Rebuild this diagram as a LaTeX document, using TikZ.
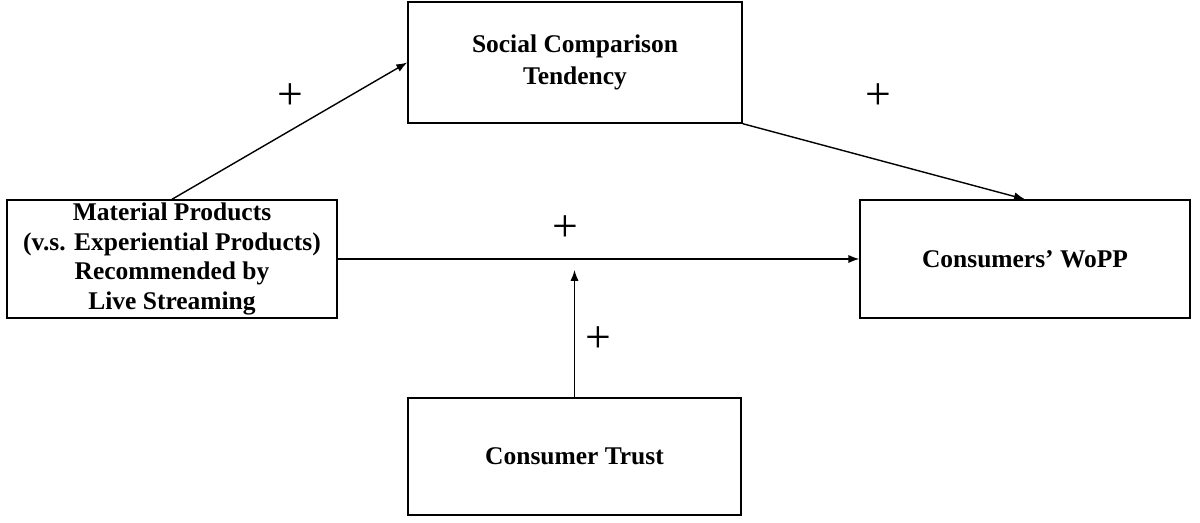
\documentclass[tikz,border=0pt]{standalone}
\usepackage{fontspec}
\setmainfont{Liberation Serif}
\tikzset{
  box/.style={draw, thick, align=center, font=\fontsize{14.5}{17}\selectfont\bfseries, inner sep=0pt},
  sign/.style={font=\fontsize{26}{26}\selectfont},
  link/.style={draw, thick, -{Latex[length=2.2mm]}}
}
\usetikzlibrary{arrows.meta}
\begin{document}
\begin{tikzpicture}
        \useasboundingbox (0,0) rectangle (24,10.46);
        \node[box, minimum width=6.68cm, minimum height=2.42cm] (soc) at (11.5,9.21) {Social Comparison\\[1pt]Tendency};
        \node[box, minimum width=6.6cm, minimum height=2.36cm] (mat) at (3.44,5.28) {Material Products\\(v.s. Experiential Products)\\Recommended by\\Live Streaming};
        \node[box, minimum width=6.6cm, minimum height=2.36cm] (wopp) at (20.5,5.28) {Consumers' WoPP};
        \node[box, minimum width=6.66cm, minimum height=2.34cm] (trust) at (11.49,1.33) {Consumer Trust};
        \coordinate (mid) at (11.49,5.06);
        \node[sign] (p1) at (5.8,8.52) {+};
        \node[sign] (p2) at (17.56,8.52) {+};
        \node[sign] (p3) at (11.3,5.88) {+};
        \node[sign] (p4) at (11.96,3.66) {+};
        \draw[link] (mat.north) -- (soc.west);
        \draw[link] (soc.south east) -- (wopp.north);
        \draw[link] (mat.east) -- (wopp.west);
        \draw[link] (trust.north) -- (mid);
    \end{tikzpicture}
\end{document}
